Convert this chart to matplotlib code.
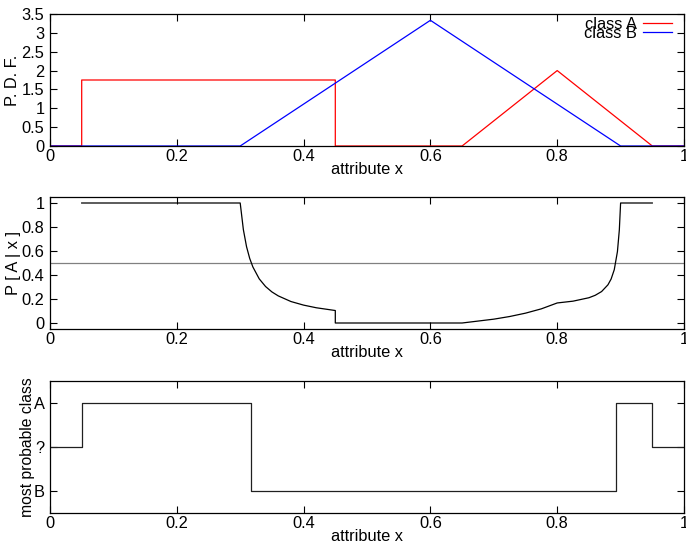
import matplotlib
matplotlib.use('Agg')
import matplotlib.pyplot as plt

plt.rcParams['font.family'] = ['Liberation Sans', 'DejaVu Sans']
plt.rcParams['font.size'] = 11.8

# class densities (vertices)
pdf_a_x = [0.0, 0.05, 0.05, 0.45, 0.45, 0.65, 0.8, 0.95, 1.0]
pdf_a_y = [0.0, 0.0, 1.75, 1.75, 0.0, 0.0, 2.0, 0.0, 0.0]
pdf_b_x = [0.0, 0.3, 0.6, 0.9, 1.0]
pdf_b_y = [0.0, 0.0, 3.333, 0.0, 0.0]

# posterior P[A|x]
post_x = [0.05, 0.3, 0.305, 0.31, 0.315, 0.32, 0.33, 0.34, 0.35, 0.36, 0.38,
          0.40, 0.42, 0.45, 0.45, 0.65, 0.7, 0.725, 0.75, 0.775, 0.8, 0.825,
          0.85, 0.86, 0.87, 0.88, 0.885, 0.89, 0.895, 0.898, 0.9, 0.95]
post_y = [1.0, 1.0, 0.778, 0.636, 0.538, 0.467, 0.368, 0.304, 0.259, 0.226, 0.179,
          0.149, 0.127, 0.104, 0.0, 0.0, 0.032, 0.054, 0.082, 0.118, 0.167, 0.182,
          0.2105, 0.231, 0.262, 0.318, 0.366, 0.444, 0.595, 0.776, 1.0, 1.0]

# decision: 0 = B, 1 = ?, 2 = A
cls_x = [0.0, 0.05, 0.05, 0.3175, 0.3175, 0.8925, 0.8925, 0.95, 0.95, 1.0]
cls_y = [1, 1, 2, 2, 0, 0, 2, 2, 1, 1]
cls_ticks = [0, 1, 2]
cls_labels = ['B', '?', 'A']

fig = plt.figure(figsize=(6.86, 5.46), dpi=100)
W, H = 686.0, 546.0
left, width = 50 / W, 634 / W
ax1 = fig.add_axes([left, 1 - 146 / H, width, 132 / H])
ax2 = fig.add_axes([left, 1 - 329 / H, width, 132 / H])
ax3 = fig.add_axes([left, 1 - 513 / H, width, 132 / H])

lw = 0.9
ax1.plot(pdf_a_x, pdf_a_y, color='#ff0000', lw=lw, label='class A')
ax1.plot(pdf_b_x, pdf_b_y, color='#0000ff', lw=lw, label='class B')
ax1.set_ylim(0, 3.5)
ax1.set_yticks([0, 0.5, 1, 1.5, 2, 2.5, 3, 3.5])
ax1.set_yticklabels(['0', '0.5', '1', '1.5', '2', '2.5', '3', '3.5'])
ax1.set_ylabel('P. D. F.')
ax1.legend(loc='upper right', bbox_to_anchor=(0.981, 0.98), markerfirst=False,
           frameon=False, labelspacing=-0.33, handlelength=1.77,
           handletextpad=0.37, borderpad=0, borderaxespad=0)

ax2.axhline(0.5, color='#808080', lw=lw)
ax2.plot(post_x, post_y, color='black', lw=lw)
ax2.set_ylim(-0.05, 1.05)
ax2.set_yticks([0, 0.2, 0.4, 0.6, 0.8, 1])
ax2.set_yticklabels(['0', '0.2', '0.4', '0.6', '0.8', '1'])
ax2.set_ylabel('P [ A | x ]')

ax3.plot(cls_x, cls_y, color='#202020', lw=lw)
ax3.set_ylim(-0.5, 2.5)
ax3.set_yticks(cls_ticks)
ax3.set_yticklabels(cls_labels)
ax3.set_ylabel('most probable class', fontsize=11.3)

for ax in (ax1, ax2, ax3):
    ax.set_xlim(0, 1)
    ax.set_xticks([0, 0.2, 0.4, 0.6, 0.8, 1])
    ax.set_xticklabels(['0', '0.2', '0.4', '0.6', '0.8', '1'])
    ax.set_xlabel('attribute x', labelpad=-1)
    ax.tick_params(direction='in', length=5, width=0.8, top=True, right=True,
                   pad=2)
    ax.tick_params(axis='y', pad=4)
    for s in ax.spines.values():
        s.set_linewidth(0.9)

ax1.yaxis.set_label_coords(-0.047, 0.5)
ax2.yaxis.set_label_coords(-0.046, 0.5)
ax3.yaxis.set_label_coords(-0.023, 0.5)

fig.savefig('out.png', dpi=100)
